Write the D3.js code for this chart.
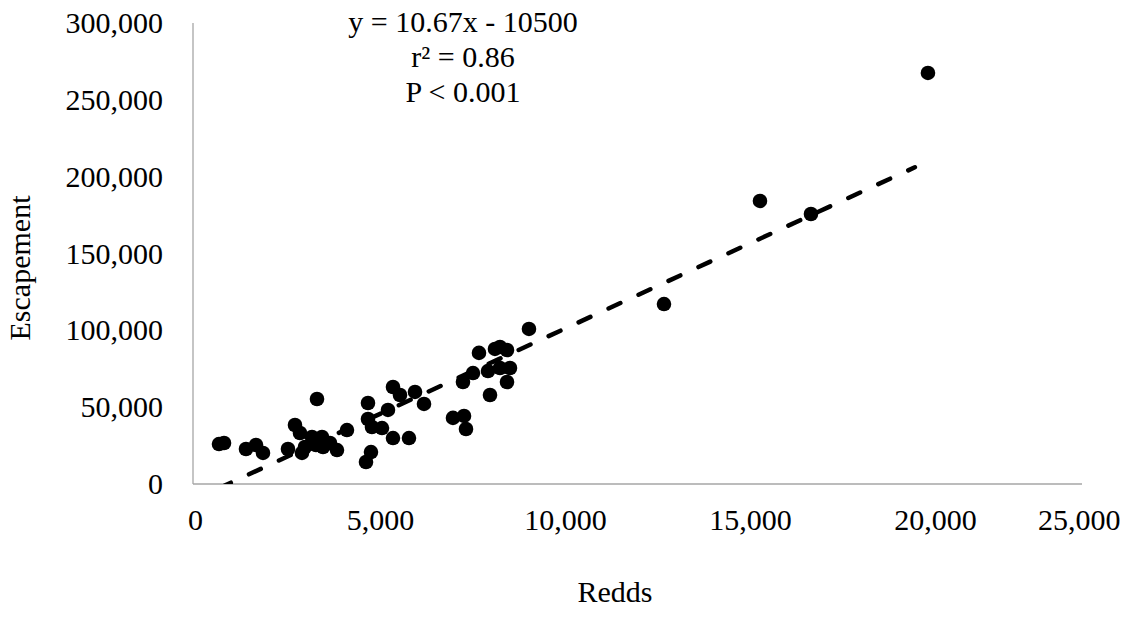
<!DOCTYPE html>
<html>
<head>
<meta charset="UTF-8">
<title>Escapement vs Redds</title>
<script src="https://d3js.org/d3.v7.min.js"></script>
<style>
  body { margin: 0; background: #fff; }
  text { font-family: "Liberation Serif", "Times New Roman", serif; fill: #000; }
</style>
</head>
<body>
<svg width="1130" height="630"></svg>
<script>
// data (redds, escapement)
var redds = [731, 872, 1490, 1772, 1968, 2671, 2868, 3009, 3065, 3149, 3346, 3487, 3628, 3656,
  3459, 3852, 4049, 4330, 4921, 4921, 4865, 5005, 5033, 5315, 5483, 5624, 5624, 5821, 6074,
  6243, 6496, 7311, 7621, 7677, 7592, 7874, 8042, 8295, 8352, 8492, 8633, 8633, 8830, 8830,
  8914, 9448, 13245, 15944, 17378, 20668];
var escapement = [26000, 26700, 22800, 25400, 20200, 22800, 38400, 33200, 20200, 24100, 30600,
  55300, 30600, 24100, 25400, 26700, 22100, 35100, 52700, 42300, 14300, 20800, 37100, 36400,
  48200, 29900, 63100, 57900, 29900, 59900, 52100, 43000, 44300, 35800, 66400, 72200, 85300,
  73500, 57900, 87900, 89200, 75500, 87200, 66400, 75500, 100900, 117100, 184200, 175700, 267500];

var xTicks = [0, 5000, 10000, 15000, 20000, 25000];
var yTicks = [0, 50000, 100000, 150000, 200000, 250000, 300000];
var slope = 10.67, intercept = -10500;
var trendX = [731, 20300];
var statLines = ["y = 10.67x - 10500", "r² = 0.86", "P < 0.001"];

var svg = d3.select("svg");

var x = d3.scaleLinear().domain([0, 25000]).range([193, 1082]);
// tick labels sit a bit wider than the plot in the original
var xLab = d3.scaleLinear().domain([0, 25000]).range([195, 1120]);
var y = d3.scaleLinear().domain([0, 300000]).range([484, 23]);

var fmt = d3.format(",");

svg.append("defs").append("clipPath").attr("id", "plot")
  .append("rect").attr("x", 193).attr("y", 23).attr("width", 889).attr("height", 461);

// axis lines
svg.append("line").attr("x1", x(0)).attr("x2", x(25000)).attr("y1", y(0)).attr("y2", y(0))
  .attr("stroke", "#a6a6a6").attr("stroke-width", 1.3);
svg.append("line").attr("x1", x(0)).attr("x2", x(0)).attr("y1", y(0)).attr("y2", y(300000))
  .attr("stroke", "#a6a6a6").attr("stroke-width", 1.3);

var gx = svg.append("g").attr("transform", "translate(0," + y(0) + ")")
  .call(d3.axisBottom(xLab).tickValues(xTicks).tickFormat(fmt).tickSize(0).tickPadding(25));
gx.select(".domain").remove();
gx.selectAll("text").style("font-size", "30px").style("font-family", "Liberation Serif")
  .attr("text-anchor", function(d) { return d === 25000 ? "end" : "middle"; });

var gy = svg.append("g").attr("transform", "translate(" + x(0) + ",0)")
  .call(d3.axisLeft(y).tickValues(yTicks).tickFormat(fmt).tickSize(0).tickPadding(30));
gy.select(".domain").remove();
gy.selectAll("text").style("font-size", "30px").style("font-family", "Liberation Serif");

// points
svg.append("g").selectAll("circle")
  .data(redds.map(function(r, i) { return [r, escapement[i]]; }))
  .enter().append("circle")
  .attr("cx", function(d) { return x(d[0]); })
  .attr("cy", function(d) { return y(d[1]); })
  .attr("r", 7.3)
  .attr("fill", "#000");

// trendline
svg.append("line")
  .attr("clip-path", "url(#plot)")
  .attr("x1", x(trendX[0])).attr("y1", y(slope * trendX[0] + intercept))
  .attr("x2", x(trendX[1])).attr("y2", y(slope * trendX[1] + intercept))
  .attr("stroke", "#000").attr("stroke-width", 4.5)
  .attr("stroke-linecap", "round")
  .attr("stroke-dasharray", "13,20");

// regression stats
svg.append("g").selectAll("text").data(statLines).enter().append("text")
  .attr("x", 463).attr("y", function(d, i) { return 32 + i * 35; })
  .attr("text-anchor", "middle").style("font-size", "30px")
  .text(function(d) { return d; });

// axis titles
svg.append("text").attr("x", 615).attr("y", 602).attr("text-anchor", "middle")
  .style("font-size", "30px").text("Redds");
svg.append("text").attr("transform", "translate(30,268) rotate(-90)").attr("text-anchor", "middle")
  .style("font-size", "30px").text("Escapement");
</script>
</body>
</html>
